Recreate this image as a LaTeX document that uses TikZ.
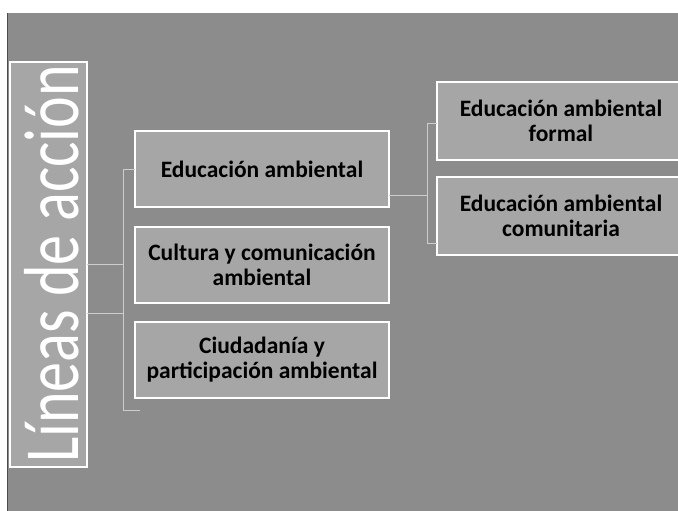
\documentclass[tikz,border=0pt]{standalone}
\usepackage{fontspec}
\setmainfont{Carlito}
\definecolor{bggray}{HTML}{8C8C8C}
\definecolor{boxgray}{HTML}{A6A6A6}
\definecolor{lineclr}{HTML}{CDCDCD}
\tikzset{
  boxstyle/.style={draw=black, double=white, double distance=1.3pt, line width=0.6pt,
    fill=boxgray, align=center, inner sep=0pt,
    font=\fontsize{23.5}{25}\selectfont\bfseries},
  midbox/.style={boxstyle, minimum width=254pt, minimum height=76pt},
  rightbox/.style={boxstyle, minimum width=248pt, minimum height=78pt},
  conn/.style={draw=lineclr, line width=1pt}
}
\begin{document}
\begin{tikzpicture}[x=1pt,y=-1pt]
\useasboundingbox (0,0) rectangle (678,511);
\clip (0,0) rectangle (678,511);
\fill[white] (0,0) rectangle (678,511);
\fill[bggray] (7,13) rectangle (690,520);
\draw[black!70, line width=0.8pt] (7,13) -- (7,511);

\node[boxstyle, minimum width=77pt, minimum height=405pt] (root) at (48.5,264.5) {};
\node[midbox] (m1) at (262,169) {Educación ambiental};
\node[midbox] (m2) at (262,265) {Cultura y comunicación\\ambiental};
\node[midbox] (m3) at (262,360) {Ciudadanía y\\participación ambiental};
\node[rightbox] (r1) at (561,121) {Educación ambiental\\formal};
\node[rightbox] (r2) at (561,216) {Educación ambiental\\comunitaria};

% connectors
\coordinate (lv) at (123,169);
\coordinate (lb) at (123,410);
\coordinate (lbe) at (140,410);
\draw[conn] (root.east |- 0,264) -- (lv |- 0,264);
\draw[conn] (root.east |- 0,313) -- (lv |- 0,313);
\draw[conn] (m1.west) -- (lv) -- (lb) -- (lbe);

\coordinate (rv) at (427,123);
\coordinate (rb) at (427,243);
\draw[conn] (m1.east |- 0,195) -- (rv |- 0,195);
\draw[conn] (r1.west |- rv) -- (rv) -- (rb) -- (r2.west |- rb);

\node[font=\fontsize{78}{78}\selectfont, text=white, inner sep=0pt] (title) at (52,264)
  {\rotatebox{90}{\scalebox{0.77}[1]{Líneas de acción}}};
\end{tikzpicture}
\end{document}
